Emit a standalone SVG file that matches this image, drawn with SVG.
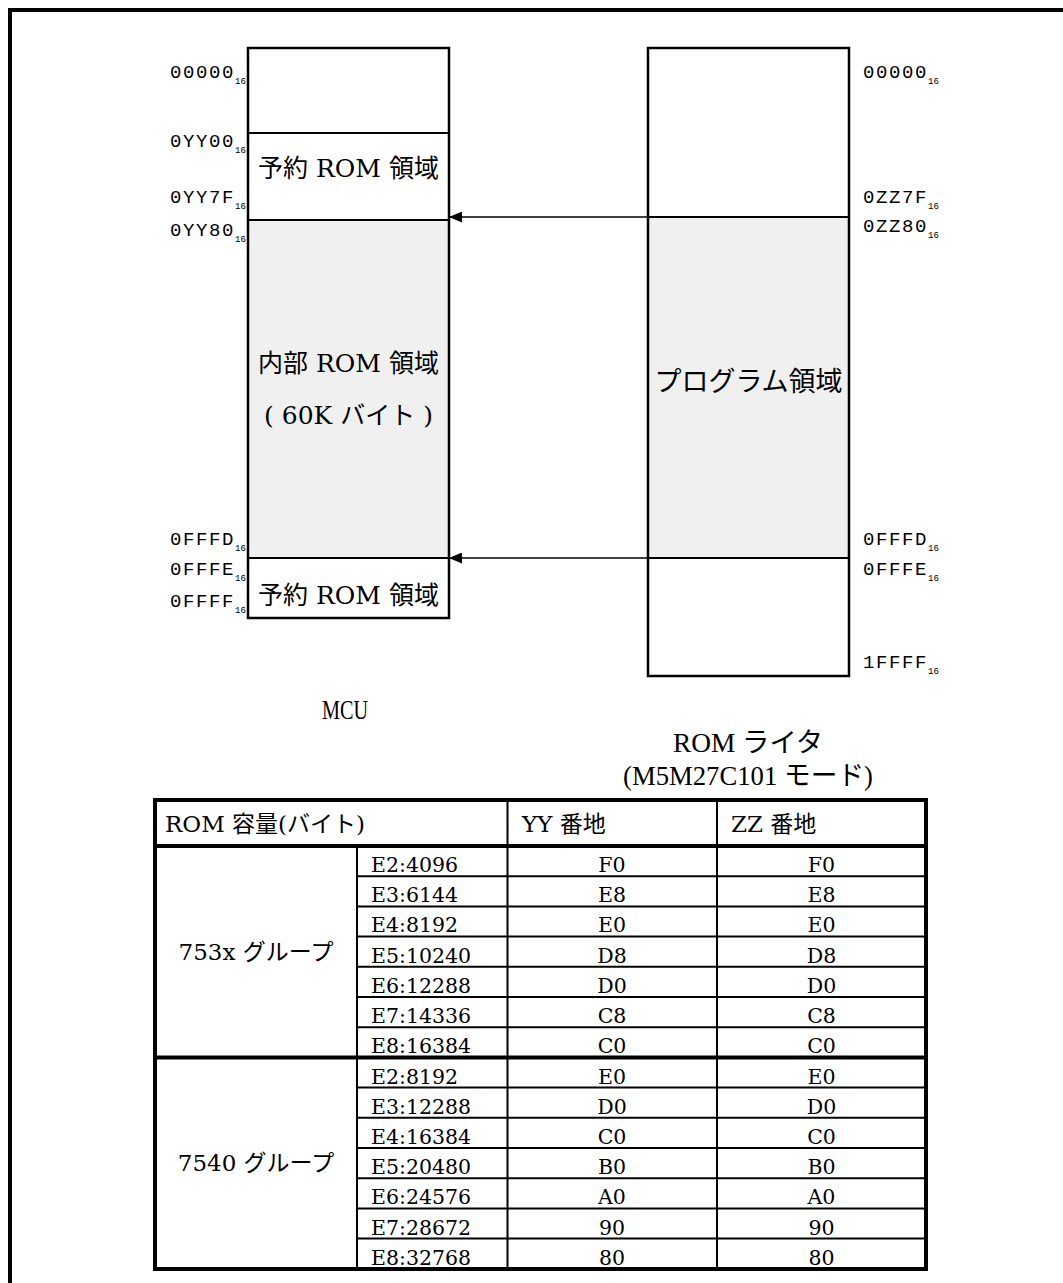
<svg xmlns="http://www.w3.org/2000/svg" width="1063" height="1283" viewBox="0 0 1063 1283">
<style>
.frame{fill:none;stroke:#000;stroke-width:4}
.box{fill:none;stroke:#000;stroke-width:2.5}
.sep{stroke:#000;stroke-width:2}
.gray{fill:#f0f0f0;stroke:none}
.addr{font-family:"Liberation Mono","DejaVu Sans Mono",monospace;font-size:19px;letter-spacing:1.6px;fill:#000}
.sub{font-size:9px;letter-spacing:0}
.lbl{font-family:"DejaVu Serif","Noto Sans CJK JP",serif;font-size:25px;fill:#000;text-anchor:middle}
.cap{font-family:"Liberation Serif","Noto Sans CJK JP",serif;font-size:27px;fill:#000;text-anchor:middle}
.conn{stroke:#000;stroke-width:1.5;fill:none}
.tb{fill:none;stroke:#000;stroke-width:4}
.tl{stroke:#000;stroke-width:2}
.tt{stroke:#000;stroke-width:4}
.th{font-family:"DejaVu Serif","Noto Sans CJK JP",serif;font-size:23px;fill:#000}
.td{font-family:"DejaVu Serif","Noto Sans CJK JP",serif;font-size:20.5px;fill:#000}
.tc{font-family:"DejaVu Serif","Noto Sans CJK JP",serif;font-size:20.5px;fill:#000;text-anchor:middle}
.tg{font-family:"DejaVu Serif","Noto Sans CJK JP",serif;font-size:23px;fill:#000;text-anchor:middle}
</style>
<defs>
<marker id="ah" markerWidth="13" markerHeight="11" refX="13" refY="5.5" orient="auto" markerUnits="userSpaceOnUse">
<path d="M0,0 L13,5.5 L0,11 Z" fill="#000"/>
</marker>
</defs>
<rect width="1063" height="1283" fill="#fff"/>
<path class="frame" d="M10,1283 V10 H1063"/>

<g id="mcu">
<rect class="gray" x="248" y="220" width="201" height="338"/>
<line class="sep" x1="248" y1="133" x2="449" y2="133"/>
<line class="sep" x1="248" y1="220" x2="449" y2="220"/>
<line class="sep" x1="248" y1="558" x2="449" y2="558"/>
<rect class="box" x="248" y="48" width="201" height="570"/>
<text class="lbl" x="348.5" y="177">予約 ROM 領域</text>
<text class="lbl" x="348.5" y="372">内部 ROM 領域</text>
<text class="lbl" x="348.5" y="424">( 60K バイト )</text>
<text class="lbl" x="348.5" y="604">予約 ROM 領域</text>
<text class="addr" x="170" y="78">00000<tspan class="sub" dy="6">16</tspan></text>
<text class="addr" x="170" y="147">0YY00<tspan class="sub" dy="6">16</tspan></text>
<text class="addr" x="170" y="203">0YY7F<tspan class="sub" dy="6">16</tspan></text>
<text class="addr" x="170" y="236">0YY80<tspan class="sub" dy="6">16</tspan></text>
<text class="addr" x="170" y="545">0FFFD<tspan class="sub" dy="6">16</tspan></text>
<text class="addr" x="170" y="575">0FFFE<tspan class="sub" dy="6">16</tspan></text>
<text class="addr" x="170" y="607">0FFFF<tspan class="sub" dy="6">16</tspan></text>
<text class="cap" transform="translate(345,719) scale(0.75,1)">MCU</text>
</g>

<g id="romwriter">
<rect class="gray" x="648" y="217" width="201" height="341"/>
<line class="sep" x1="648" y1="217" x2="849" y2="217"/>
<line class="sep" x1="648" y1="558" x2="849" y2="558"/>
<rect class="box" x="648" y="48" width="201" height="628"/>
<text class="lbl" x="748.5" y="391" style="font-size:27px">プログラム領域</text>
<text class="addr" x="863" y="78">00000<tspan class="sub" dy="6">16</tspan></text>
<text class="addr" x="863" y="203">0ZZ7F<tspan class="sub" dy="6">16</tspan></text>
<text class="addr" x="863" y="232">0ZZ80<tspan class="sub" dy="6">16</tspan></text>
<text class="addr" x="863" y="545">0FFFD<tspan class="sub" dy="6">16</tspan></text>
<text class="addr" x="863" y="575">0FFFE<tspan class="sub" dy="6">16</tspan></text>
<text class="addr" x="863" y="668">1FFFF<tspan class="sub" dy="6">16</tspan></text>
<text class="cap" x="748" y="752" textLength="150" lengthAdjust="spacingAndGlyphs">ROM ライタ</text>
<text class="cap" x="748" y="785" textLength="250" lengthAdjust="spacingAndGlyphs">(M5M27C101 モード)</text>
</g>

<g id="connectors">
<line class="conn" x1="648" y1="217" x2="449" y2="217" marker-end="url(#ah)"/>
<line class="conn" x1="648" y1="558" x2="449" y2="558" marker-end="url(#ah)"/>
</g>

<g id="table">
<line class="tl" x1="507.5" y1="800" x2="507.5" y2="1269"/>
<line class="tl" x1="717" y1="800" x2="717" y2="1269"/>
<line class="tl" x1="357" y1="846" x2="357" y2="1269"/>
<line class="tl" x1="357" y1="876.2" x2="926" y2="876.2"/>
<line class="tl" x1="357" y1="906.4" x2="926" y2="906.4"/>
<line class="tl" x1="357" y1="936.6" x2="926" y2="936.6"/>
<line class="tl" x1="357" y1="966.8" x2="926" y2="966.8"/>
<line class="tl" x1="357" y1="997" x2="926" y2="997"/>
<line class="tl" x1="357" y1="1027.2" x2="926" y2="1027.2"/>
<line class="tt" x1="155" y1="1057.4" x2="926" y2="1057.4"/>
<line class="tl" x1="357" y1="1087.6" x2="926" y2="1087.6"/>
<line class="tl" x1="357" y1="1117.8" x2="926" y2="1117.8"/>
<line class="tl" x1="357" y1="1148" x2="926" y2="1148"/>
<line class="tl" x1="357" y1="1178.2" x2="926" y2="1178.2"/>
<line class="tl" x1="357" y1="1208.4" x2="926" y2="1208.4"/>
<line class="tl" x1="357" y1="1238.6" x2="926" y2="1238.6"/>
<line class="tt" x1="155" y1="846" x2="926" y2="846"/>
<rect class="tb" x="155" y="800" width="771" height="469"/>

<text class="th" x="165" y="832">ROM 容量(バイト)</text>
<text class="th" x="522" y="832">YY 番地</text>
<text class="th" x="731" y="832">ZZ 番地</text>

<text class="tg" x="256" y="960">753x グループ</text>
<text class="tg" x="256" y="1171">7540 グループ</text>

<text class="td" x="371" y="872">E2:4096</text>
<text class="td" x="371" y="902">E3:6144</text>
<text class="td" x="371" y="932">E4:8192</text>
<text class="td" x="371" y="963">E5:10240</text>
<text class="td" x="371" y="993">E6:12288</text>
<text class="td" x="371" y="1023">E7:14336</text>
<text class="td" x="371" y="1053">E8:16384</text>
<text class="td" x="371" y="1084">E2:8192</text>
<text class="td" x="371" y="1114">E3:12288</text>
<text class="td" x="371" y="1144">E4:16384</text>
<text class="td" x="371" y="1174">E5:20480</text>
<text class="td" x="371" y="1204">E6:24576</text>
<text class="td" x="371" y="1235">E7:28672</text>
<text class="td" x="371" y="1265">E8:32768</text>

<text class="tc" x="612" y="872">F0</text><text class="tc" x="821.5" y="872">F0</text>
<text class="tc" x="612" y="902">E8</text><text class="tc" x="821.5" y="902">E8</text>
<text class="tc" x="612" y="932">E0</text><text class="tc" x="821.5" y="932">E0</text>
<text class="tc" x="612" y="963">D8</text><text class="tc" x="821.5" y="963">D8</text>
<text class="tc" x="612" y="993">D0</text><text class="tc" x="821.5" y="993">D0</text>
<text class="tc" x="612" y="1023">C8</text><text class="tc" x="821.5" y="1023">C8</text>
<text class="tc" x="612" y="1053">C0</text><text class="tc" x="821.5" y="1053">C0</text>
<text class="tc" x="612" y="1084">E0</text><text class="tc" x="821.5" y="1084">E0</text>
<text class="tc" x="612" y="1114">D0</text><text class="tc" x="821.5" y="1114">D0</text>
<text class="tc" x="612" y="1144">C0</text><text class="tc" x="821.5" y="1144">C0</text>
<text class="tc" x="612" y="1174">B0</text><text class="tc" x="821.5" y="1174">B0</text>
<text class="tc" x="612" y="1204">A0</text><text class="tc" x="821.5" y="1204">A0</text>
<text class="tc" x="612" y="1235">90</text><text class="tc" x="821.5" y="1235">90</text>
<text class="tc" x="612" y="1265">80</text><text class="tc" x="821.5" y="1265">80</text>
</g>
</svg>
